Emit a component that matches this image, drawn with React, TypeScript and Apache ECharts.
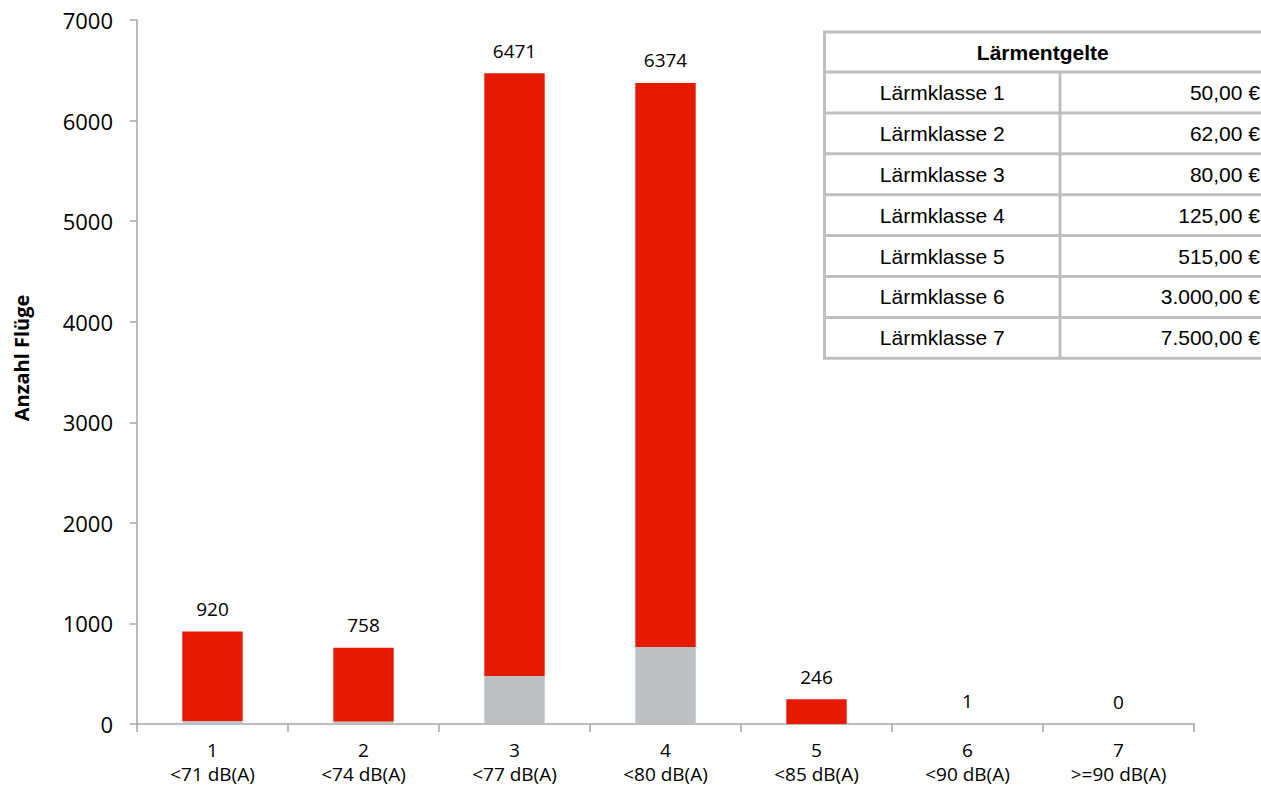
import React, { useEffect, useRef } from "react";
import * as echarts from "echarts";

const classNumbers = ["1", "2", "3", "4", "5", "6", "7"];
const classRanges = ["<71 dB(A)", "<74 dB(A)", "<77 dB(A)", "<80 dB(A)", "<85 dB(A)", "<90 dB(A)", ">=90 dB(A)"];
const totalFlights = [920, 758, 6471, 6374, 246, 1, 0];
const grayFlights = [30, 25, 477, 766, 0, 0, 0];
const redFlights = [890, 733, 5994, 5608, 246, 1, 0];
const yTicks = { min: 0, max: 7000, interval: 1000 };

const tableTitle = "Lärmentgelte";
const feeClasses = ["Lärmklasse 1", "Lärmklasse 2", "Lärmklasse 3", "Lärmklasse 4", "Lärmklasse 5", "Lärmklasse 6", "Lärmklasse 7"];
const feeAmounts = ["50,00 €", "62,00 €", "80,00 €", "125,00 €", "515,00 €", "3.000,00 €", "7.500,00 €"];

const FONT = "'Open Sans', sans-serif";
const TFONT = "'Liberation Sans', Arial, sans-serif";

export default function App() {
  const ref = useRef<HTMLDivElement>(null);
  useEffect(() => {
    if (!ref.current) return;
    const chart = echarts.init(ref.current, null, { renderer: "svg" });

    const tL = 824.5, tR = 1275, tTop = 32, headH = 40, rowH = 40.9, colX = 1060;
    const tBottom = tTop + headH + rowH * feeClasses.length;
    const border = "#BFBFBF";
    const g: any[] = [];
    g.push({ type: "rect", shape: { x: tL, y: tTop, width: tR - tL, height: tBottom - tTop }, style: { fill: "#fff", stroke: border, lineWidth: 3 } });
    for (let i = 0; i < feeClasses.length; i++) {
      const y = tTop + headH + rowH * i;
      g.push({ type: "line", shape: { x1: tL, y1: y, x2: tR, y2: y }, style: { stroke: border, lineWidth: 3 } });
    }
    g.push({ type: "line", shape: { x1: colX, y1: tTop + headH, x2: colX, y2: tBottom }, style: { stroke: border, lineWidth: 3 } });
    g.push({ type: "text", x: (tL + 1261) / 2, y: tTop + headH / 2, style: { text: tableTitle, font: `bold 21px ${TFONT}`, fill: "#000", align: "center", verticalAlign: "middle" } });
    feeClasses.forEach((c, i) => {
      const cy = tTop + headH + rowH * (i + 0.5);
      g.push({ type: "text", x: (tL + colX) / 2, y: cy, style: { text: c, font: `21px ${TFONT}`, fill: "#000", align: "center", verticalAlign: "middle" } });
      g.push({ type: "text", x: 1260, y: cy, style: { text: feeAmounts[i], font: `21px ${TFONT}`, fill: "#000", align: "right", verticalAlign: "middle" } });
    });
    g.push({ type: "text", x: 21, y: 358, rotation: Math.PI / 2, style: { text: "Anzahl Flüge", font: `bold 20px ${FONT}`, fill: "#000", align: "center", verticalAlign: "middle" } });

    chart.setOption({
      animation: false,
      grid: { left: 137, right: 67, top: 20, bottom: 68, containLabel: false },
      xAxis: {
        type: "category",
        data: classNumbers.map((n, i) => n + "\n" + classRanges[i]),
        axisLine: { lineStyle: { color: "#A6A6A6", width: 1.5 } },
        axisTick: { show: true, alignWithLabel: false, length: 8, lineStyle: { color: "#A6A6A6", width: 1.5 } },
        axisLabel: { color: "#000", fontSize: 19, fontFamily: FONT, lineHeight: 24, margin: 14, interval: 0 },
      },
      yAxis: {
        type: "value",
        min: yTicks.min,
        max: yTicks.max,
        interval: yTicks.interval,
        axisLine: { show: true, lineStyle: { color: "#A6A6A6", width: 1.5 } },
        axisTick: { show: true, length: 7, lineStyle: { color: "#A6A6A6", width: 1.5 } },
        splitLine: { show: false },
        axisLabel: { color: "#000", fontSize: 22, fontFamily: FONT, margin: 24, formatter: (v: number) => String(v) },
      },
      series: [
        {
          type: "bar",
          stack: "total",
          data: grayFlights,
          barWidth: "40%",
          itemStyle: { color: "#BCC0C2" },
        },
        {
          type: "bar",
          stack: "total",
          data: redFlights,
          barWidth: "40%",
          itemStyle: { color: "#E61A00" },
          label: {
            show: true,
            position: "top",
            distance: 13,
            color: "#000",
            fontSize: 19,
            fontFamily: FONT,
            formatter: (p: any) => String(totalFlights[p.dataIndex]),
          },
        },
      ],
      graphic: g,
    });
    return () => chart.dispose();
  }, []);
  return <div ref={ref} style={{ position: "fixed", left: 0, top: 0, width: 1261, height: 792, background: "#fff" }} />;
}
